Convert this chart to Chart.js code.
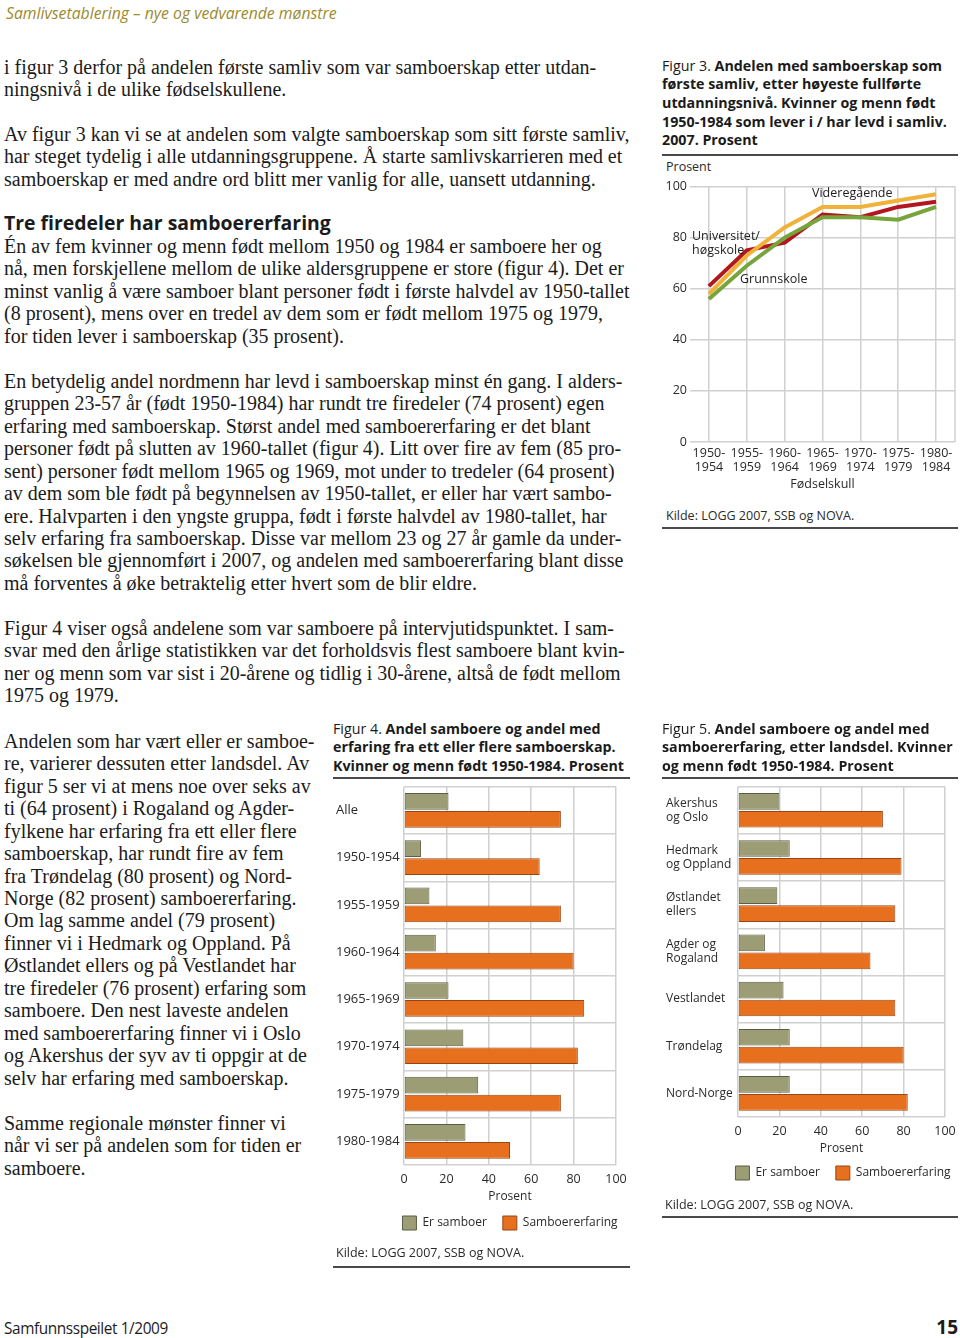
<!DOCTYPE html>
<html><head><meta charset="utf-8">
<script src="https://cdn.jsdelivr.net/npm/chart.js@4.4.0/dist/chart.umd.min.js"></script>
<style>
html,body{margin:0;padding:0;width:960px;height:1338px;overflow:hidden;background:#fff;}
.abs{position:absolute;}
.serif{font-family:"Liberation Serif",serif;color:#1b1b1b;white-space:nowrap;line-height:22.45px;font-size:19px;}
.sans{font-family:"Open Sans",sans-serif;color:#222;white-space:nowrap;}
.ftitle{font-family:"Open Sans",sans-serif;color:#1b1b1b;white-space:nowrap;font-size:13.5px;line-height:18.7px;font-weight:700;}
.ftitle .n{font-weight:400;}
.rule{position:absolute;height:2px;background:#4a4a4a;}
.small{font-family:"Open Sans",sans-serif;color:#2a2a2a;font-size:12.5px;white-space:nowrap;}
canvas{position:absolute;}
</style></head><body>

<div class="abs sans" id="hdr" style="left:6px;top:3px;font-size:14.5px;font-style:italic;color:#9c8a2c;line-height:20px;">Samlivsetablering – nye og vedvarende mønstre</div>

<div class="abs serif" style="left:4px;top:55.8px;">i figur 3 derfor på andelen første samliv som var samboerskap etter utdan-<br>ningsnivå i de ulike fødselskullene.</div>
<div class="abs serif" style="left:4px;top:122.8px;">Av figur 3 kan vi se at andelen som valgte samboerskap som sitt første samliv,<br>har steget tydelig i alle utdanningsgruppene. Å starte samlivskarrieren med et<br>samboerskap er med andre ord blitt mer vanlig for alle, uansett utdanning.</div>
<div class="abs sans" id="h2" style="left:4px;top:212px;font-size:18.5px;font-weight:700;line-height:22px;color:#1b1b1b;">Tre firedeler har samboererfaring</div>
<div class="abs serif" style="left:4px;top:234.8px;">Én av fem kvinner og menn født mellom 1950 og 1984 er samboere her og<br>nå, men forskjellene mellom de ulike aldersgruppene er store (figur 4). Det er<br><span id="refline">minst vanlig å være samboer blant personer født i første halvdel av 1950-tallet</span><br>(8 prosent), mens over en tredel av dem som er født mellom 1975 og 1979,<br>for tiden lever i samboerskap (35 prosent).</div>
<div class="abs serif" style="left:4px;top:369.8px;">En betydelig andel nordmenn har levd i samboerskap minst én gang. I alders-<br>gruppen 23-57 år (født 1950-1984) har rundt tre firedeler (74 prosent) egen<br>erfaring med samboerskap. Størst andel med samboererfaring er det blant<br>personer født på slutten av 1960-tallet (figur 4). Litt over fire av fem (85 pro-<br>sent) personer født mellom 1965 og 1969, mot under to tredeler (64 prosent)<br>av dem som ble født på begynnelsen av 1950-tallet, er eller har vært sambo-<br>ere. Halvparten i den yngste gruppa, født i første halvdel av 1980-tallet, har<br>selv erfaring fra samboerskap. Disse var mellom 23 og 27 år gamle da under-<br>søkelsen ble gjennomført i 2007, og andelen med samboererfaring blant disse<br>må forventes å øke betraktelig etter hvert som de blir eldre.</div>
<div class="abs serif" style="left:4px;top:616.8px;">Figur 4 viser også andelene som var samboere på intervjutidspunktet. I sam-<br>svar med den årlige statistikken var det forholdsvis flest samboere blant kvin-<br>ner og menn som var sist i 20-årene og tidlig i 30-årene, altså de født mellom<br>1975 og 1979.</div>
<div class="abs serif" style="left:4px;top:729.8px;">Andelen som har vært eller er samboe-<br>re, varierer dessuten etter landsdel. Av<br>figur 5 ser vi at mens noe over seks av<br>ti (64 prosent) i Rogaland og Agder-<br>fylkene har erfaring fra ett eller flere<br>samboerskap, har rundt fire av fem<br>fra Trøndelag (80 prosent) og Nord-<br>Norge (82 prosent) samboererfaring.<br>Om lag samme andel (79 prosent)<br>finner vi i Hedmark og Oppland. På<br>Østlandet ellers og på Vestlandet har<br>tre firedeler (76 prosent) erfaring som<br>samboere. Den nest laveste andelen<br>med samboererfaring finner vi i Oslo<br>og Akershus der syv av ti oppgir at de<br>selv har erfaring med samboerskap.</div>
<div class="abs serif" style="left:4px;top:1111.8px;">Samme regionale mønster finner vi<br>når vi ser på andelen som for tiden er<br>samboere.</div>

<!-- Figure 3 -->
<div class="abs ftitle" style="left:662px;top:56.6px;"><span class="n">Figur 3. </span>Andelen med samboerskap som<br>første samliv, etter høyeste fullførte<br>utdanningsnivå. Kvinner og menn født<br><span id="tref">1950-1984 som lever i / har levd i samliv.</span><br>2007. Prosent</div>
<div class="rule" style="left:662px;top:154px;width:296px;"></div>
<div class="abs small" style="left:666px;top:159px;line-height:16px;">Prosent</div>
<canvas id="c3" width="300" height="319" style="left:660px;top:176px;width:300px;height:319px;"></canvas>
<div class="abs small" style="left:812px;top:185px;line-height:16px;color:#222;">Videregående</div>
<div class="abs small" style="left:692px;top:229px;line-height:13.5px;color:#222;">Universitet/<br>høgskole</div>
<div class="abs small" style="left:740px;top:271px;line-height:16px;color:#222;">Grunnskole</div>
<div class="abs small" style="left:666px;top:508px;line-height:16px;">Kilde: LOGG 2007, SSB og NOVA.</div>
<div class="rule" style="left:662px;top:527px;width:296px;"></div>

<!-- Figure 4 -->
<div class="abs ftitle" style="left:333px;top:719.6px;"><span class="n">Figur 4. </span>Andel samboere og andel med<br>erfaring fra ett eller flere samboerskap.<br>Kvinner og menn født 1950-1984. Prosent</div>
<div class="rule" style="left:333px;top:777px;width:297px;"></div>
<canvas id="c5" width="354" height="419" style="left:666px;top:771px;width:354px;height:419px;"></canvas>
<canvas id="c4" width="348" height="469" style="left:336px;top:771px;width:348px;height:469px;"></canvas>
<div class="abs small" style="left:336px;top:1245px;line-height:16px;">Kilde: LOGG 2007, SSB og NOVA.</div>
<div class="rule" style="left:333px;top:1265.5px;width:297px;"></div>

<!-- Figure 5 -->
<div class="abs ftitle" style="left:662px;top:719.6px;"><span class="n">Figur 5. </span>Andel samboere og andel med<br>samboererfaring, etter landsdel. Kvinner<br>og menn født 1950-1984. Prosent</div>
<div class="rule" style="left:662px;top:777px;width:296px;"></div>
<div class="abs small" style="left:665px;top:1197px;line-height:16px;">Kilde: LOGG 2007, SSB og NOVA.</div>
<div class="rule" style="left:662px;top:1215.5px;width:296px;"></div>

<div class="abs sans" id="ftr" style="left:4px;top:1319px;font-size:15.5px;line-height:20px;color:#1b1b1b;letter-spacing:-0.4px;">Samfunnsspeilet 1/2009</div>
<div class="abs sans" style="left:900px;width:58px;text-align:right;top:1315px;font-size:19px;font-weight:700;line-height:24px;color:#1b1b1b;">15</div>

<script>
// ---------- data ----------
const fig3Categories = [['1950-','1954'],['1955-','1959'],['1960-','1964'],['1965-','1969'],['1970-','1974'],['1975-','1979'],['1980-','1984']];
const fig3Universitet = [61, 75, 78, 89, 88, 92, 94];
const fig3Videregaende = [58, 73, 84, 92, 92, 94.5, 97];
const fig3Grunnskole = [56, 69, 80, 88, 88, 87, 92];
const fig3YTicks = {min: 0, max: 100, step: 20};

const fig4Categories = ['Alle','1950-1954','1955-1959','1960-1964','1965-1969','1970-1974','1975-1979','1980-1984'];
const fig4ErSamboer = [21, 8, 12, 15, 21, 28, 35, 29];
const fig4Samboererfaring = [74, 64, 74, 80, 85, 82, 74, 50];

const fig5Categories = [['Akershus','og Oslo'],['Hedmark','og Oppland'],['Østlandet','ellers'],['Agder og','Rogaland'],'Vestlandet','Trøndelag','Nord-Norge'];
const fig5ErSamboer = [20, 25, 19, 13, 22, 25, 25];
const fig5Samboererfaring = [70, 79, 76, 64, 76, 80, 82];
const barXTicks = {min: 0, max: 100, step: 20};

const seriesNames = ['Er samboer', 'Samboererfaring'];

// ---------- text fitting ----------
(function(){
  const fit = (el, base, target) => base * target / el.getBoundingClientRect().width;
  const fs = fit(document.getElementById('refline'), 19, 626);
  document.querySelectorAll('.serif').forEach(e => e.style.fontSize = fs + 'px');
  const tfs = fit(document.getElementById('tref'), 13.5, 285);
  document.querySelectorAll('.ftitle').forEach(e => e.style.fontSize = tfs + 'px');
  const h = document.getElementById('h2');
  h.style.fontSize = fit(h, 18.5, 327) + 'px';
  const hd = document.getElementById('hdr');
  hd.style.fontSize = fit(hd, 14.5, 331) + 'px';
  const ft = document.getElementById('ftr');
  ft.style.fontSize = fit(ft, 15.5, 164) + 'px';
})();

// ---------- charts ----------
Chart.defaults.font.family = "'Open Sans', sans-serif";
Chart.defaults.color = '#2a2a2a';
Chart.defaults.animation = false;
const gridColor = '#d0d0d0';
const green = '#9c9d75', greenB = '#5b5d45', orange = '#e6701e', orangeB = '#9a4514';

const rightFrame = {
  id: 'rightFrame',
  beforeDatasetsDraw(chart) {
    const {ctx, chartArea: a} = chart;
    ctx.save(); ctx.strokeStyle = gridColor; ctx.lineWidth = 1.5;
    ctx.beginPath(); ctx.moveTo(a.right, a.top); ctx.lineTo(a.right, a.bottom); ctx.stroke();
    ctx.restore();
  }
};

new Chart(document.getElementById('c3'), {
  type: 'line',
  data: {
    labels: fig3Categories,
    datasets: [
      {label: 'Grunnskole', data: fig3Grunnskole, borderColor: '#76a53b'},
      {label: 'Videregående', data: fig3Videregaende, borderColor: '#f1b23a'},
      {label: 'Universitet/høgskole', data: fig3Universitet, borderColor: '#b3161f'}
    ].map(d => Object.assign(d, {borderWidth: 4, pointRadius: 0, tension: 0, fill: false}))
  },
  options: {
    responsive: false, devicePixelRatio: 1,
    layout: {padding: {top: 10, right: 5, left: 0, bottom: 0}},
    plugins: {legend: {display: false}, tooltip: {enabled: false}},
    scales: {
      x: {
        type: 'category', offset: true,
        grid: {offset: false, color: gridColor, lineWidth: 1.5, drawTicks: false},
        border: {display: false},
        ticks: {font: {size: 12.5, lineHeight: 1.12}, padding: 4, maxRotation: 0, autoSkip: false, color: '#2a2a2a'},
        title: {display: true, text: 'Fødselskull', font: {size: 12.5, lineHeight: 1.2}, padding: {top: 0, bottom: 3.5}, color: '#2a2a2a'},
        afterFit: s => { s.height = 53; }
      },
      y: {
        min: fig3YTicks.min, max: fig3YTicks.max,
        ticks: {stepSize: fig3YTicks.step, font: {size: 12.5}, padding: 3, color: '#2a2a2a'},
        grid: {color: gridColor, lineWidth: 1.5, drawTicks: false},
        border: {display: false},
        afterFit: s => { s.width = 30; }
      }
    }
  },
  plugins: [rightFrame]
});

function barChart(id, labels, a, b, yWidth, rightWidth, xHeight, labelSize, labelLH) {
  return new Chart(document.getElementById(id), {
    type: 'bar',
    data: {
      labels: labels,
      datasets: [
        {label: seriesNames[0], data: a, backgroundColor: green, borderColor: greenB},
        {label: seriesNames[1], data: b, backgroundColor: orange, borderColor: orangeB}
      ].map(d => Object.assign(d, {borderWidth: 1, borderSkipped: false, categoryPercentage: 0.76, barPercentage: 0.93}))
    },
    options: {
      indexAxis: 'y', responsive: false, devicePixelRatio: 1,
      layout: {padding: {top: 15.7, right: 0, left: 0, bottom: 0}},
      plugins: {
        tooltip: {enabled: false},
        legend: {
          position: 'bottom',
          labels: {boxWidth: 14, boxHeight: 14, padding: 16, font: {size: 12}, color: '#2a2a2a'}
        }
      },
      scales: {
        x: {
          min: barXTicks.min, max: barXTicks.max,
          ticks: {stepSize: barXTicks.step, font: {size: 12.5}, padding: 7, color: '#2a2a2a'},
          grid: {color: gridColor, lineWidth: 1.5, drawTicks: false},
          border: {display: false},
          title: {display: true, text: 'Prosent', font: {size: 12, lineHeight: 0.3}, padding: {top: 0, bottom: xHeight - 33}, color: '#2a2a2a'},
          afterFit: s => { s.height = xHeight; }
        },
        y: {
          type: 'category',
          ticks: {font: {size: labelSize, lineHeight: labelLH}, crossAlign: 'far', padding: 0, color: '#2a2a2a', autoSkip: false},
          grid: {color: gridColor, lineWidth: 1.5, drawTicks: false},
          border: {display: false},
          afterFit: s => { s.width = yWidth; }
        },
        yr: {
          type: 'linear', position: 'right', display: true,
          grid: {display: false}, border: {display: false}, ticks: {display: false},
          afterFit: s => { s.width = rightWidth; }
        }
      }
    }
  });
}

barChart('c4', fig4Categories, fig4ErSamboer, fig4Samboererfaring, 68, 68, 35, 13, 1.2);
barChart('c5', fig5Categories, fig5ErSamboer, fig5Samboererfaring, 72, 75, 33, 12, 1.15);
</script>
</body></html>
